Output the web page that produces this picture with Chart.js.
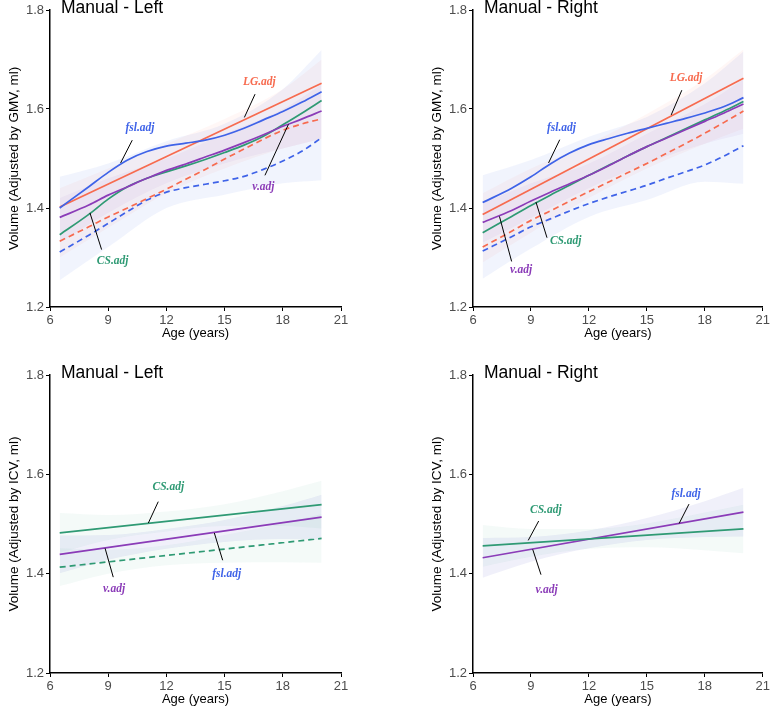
<!DOCTYPE html>
<html>
<head>
<meta charset="utf-8">
<script src="https://cdn.jsdelivr.net/npm/chart.js@4.4.1/dist/chart.umd.min.js"></script>
<style>
  body { margin: 0; background: #fff; }
  #wrap { position: relative; width: 772px; height: 717px; }
  canvas { position: absolute; }
</style>
</head>
<body>
<div id="wrap">
  <canvas id="c1" width="386" height="355" style="left:0;top:0"></canvas>
  <canvas id="c2" width="386" height="355" style="left:386px;top:0"></canvas>
  <canvas id="c3" width="386" height="362" style="left:0;top:355px"></canvas>
  <canvas id="c4" width="386" height="362" style="left:386px;top:355px"></canvas>
</div>
<script>
// ages used by the fitted curves
const AGES = [6.5, 8, 9, 10, 11, 12, 13, 14, 15, 16, 17, 18, 19, 20];
const ENDS = [6.5, 20];
const BAND_AGES = [6.5, 9, 12, 15, 18, 20];
const X_TICKS = [6, 9, 12, 15, 18, 21];
const Y_TICKS = [1.2, 1.4, 1.6, 1.8];

// GMV adjusted, left
const gmvLeftFsl      = [1.400, 1.443, 1.472, 1.497, 1.514, 1.525, 1.531, 1.537, 1.547, 1.561, 1.578, 1.595, 1.614, 1.635];
const gmvLeftFslDash  = [1.311, 1.345, 1.369, 1.393, 1.416, 1.432, 1.441, 1.448, 1.455, 1.464, 1.478, 1.495, 1.515, 1.542];
const gmvLeftV        = [1.381, 1.406, 1.426, 1.443, 1.460, 1.476, 1.489, 1.503, 1.517, 1.532, 1.548, 1.565, 1.580, 1.596];
const gmvLeftCS       = [1.346, 1.387, 1.418, 1.443, 1.460, 1.473, 1.485, 1.498, 1.512, 1.527, 1.545, 1.568, 1.592, 1.617];
const gmvLeftLG       = [1.402, 1.652];
const gmvLeftLGDash   = [1.333, 1.362, 1.382, 1.400, 1.419, 1.438, 1.458, 1.478, 1.499, 1.519, 1.539, 1.557, 1.570, 1.580];
const gmvLeftBlueHi   = [1.463, 1.490, 1.535, 1.570, 1.640, 1.719];
const gmvLeftBlueLo   = [1.254, 1.321, 1.400, 1.427, 1.450, 1.456];
const gmvLeftOrangeHi = [1.440, 1.480, 1.530, 1.580, 1.640, 1.700];
const gmvLeftOrangeLo = [1.300, 1.360, 1.430, 1.480, 1.520, 1.540];
const gmvLeftPurpleHi = [1.420, 1.460, 1.500, 1.550, 1.600, 1.650];
const gmvLeftPurpleLo = [1.330, 1.390, 1.450, 1.490, 1.520, 1.540];

// GMV adjusted, right
const gmvRightFsl      = [1.411, 1.440, 1.463, 1.489, 1.511, 1.528, 1.540, 1.551, 1.561, 1.571, 1.581, 1.592, 1.605, 1.623];
const gmvRightFslDash  = [1.313, 1.342, 1.362, 1.378, 1.394, 1.409, 1.422, 1.434, 1.446, 1.460, 1.473, 1.487, 1.505, 1.526];
const gmvRightV        = [1.371, 1.395, 1.414, 1.432, 1.449, 1.466, 1.485, 1.505, 1.524, 1.541, 1.558, 1.575, 1.592, 1.610];
const gmvRightCS       = [1.350, 1.383, 1.405, 1.426, 1.446, 1.466, 1.486, 1.505, 1.524, 1.542, 1.560, 1.578, 1.596, 1.615];
const gmvRightLG       = [1.387, 1.662];
const gmvRightLGDash   = [1.321, 1.353, 1.375, 1.394, 1.414, 1.433, 1.452, 1.471, 1.490, 1.510, 1.530, 1.551, 1.573, 1.596];
const gmvRightBlueHi   = [1.466, 1.497, 1.544, 1.584, 1.652, 1.716];
const gmvRightBlueLo   = [1.257, 1.318, 1.382, 1.416, 1.453, 1.449];
const gmvRightOrangeHi = [1.430, 1.480, 1.530, 1.590, 1.660, 1.720];
const gmvRightOrangeLo = [1.290, 1.350, 1.420, 1.480, 1.530, 1.560];
const gmvRightPurpleHi = [1.410, 1.450, 1.490, 1.550, 1.610, 1.660];
const gmvRightPurpleLo = [1.330, 1.380, 1.440, 1.490, 1.530, 1.550];

// ICV adjusted, left
const icvLeftCS       = [1.482, 1.539];
const icvLeftCSDash   = [1.413, 1.471];
const icvLeftV        = [1.439, 1.514];
const icvLeftCSHi     = [1.522, 1.518, 1.525, 1.540, 1.566, 1.587];
const icvLeftCSLo     = [1.442, 1.468, 1.485, 1.496, 1.496, 1.491];
const icvLeftDashHi   = [1.451, 1.448, 1.457, 1.478, 1.501, 1.520];
const icvLeftDashLo   = [1.375, 1.400, 1.417, 1.422, 1.423, 1.422];
const icvLeftVHi      = [1.477, 1.478, 1.490, 1.508, 1.536, 1.559];
const icvLeftVLo      = [1.401, 1.428, 1.450, 1.464, 1.470, 1.469];

// ICV adjusted, right
const icvRightCS      = [1.456, 1.490];
const icvRightV       = [1.432, 1.524];
const icvRightCSHi    = [1.498, 1.490, 1.490, 1.501, 1.523, 1.539];
const icvRightCSLo    = [1.414, 1.434, 1.450, 1.453, 1.447, 1.441];
const icvRightVHi     = [1.472, 1.474, 1.487, 1.512, 1.546, 1.573];
const icvRightVLo     = [1.392, 1.424, 1.451, 1.468, 1.474, 1.475];

const C = { fsl: '#3f63e8', lg: '#f76b4f', cs: '#2f9a74', v: '#8b3cb8' };
const SANS = '"Liberation Sans", Arial, Helvetica, sans-serif';

function pts(xs, ys) {
    return xs.map((x, i) => ({ x: x, y: ys[i] }));
}

function line(xs, ys, color, dashed) {
    return {
        data: pts(xs, ys),
        borderColor: color,
        borderWidth: 1.7,
        borderDash: dashed ? [6, 4] : [],
        pointRadius: 0,
        fill: false,
        cubicInterpolationMode: 'monotone',
        order: 0
    };
}

function rgba(hex, a) {
    const n = parseInt(hex.slice(1), 16);
    return `rgba(${n >> 16},${(n >> 8) & 255},${n & 255},${a})`;
}

// two datasets, upper one fills down to the lower one
function band(hi, lo, color, alpha) {
    return [
        { data: pts(BAND_AGES, hi), borderWidth: 0, pointRadius: 0, fill: '+1',
          backgroundColor: rgba(color, alpha), cubicInterpolationMode: 'monotone', order: 5 },
        { data: pts(BAND_AGES, lo), borderWidth: 0, pointRadius: 0, fill: false,
          cubicInterpolationMode: 'monotone', order: 5 }
    ];
}

const decor = {
    id: 'decor',
    afterDraw(chart, args, opts) {
        const { ctx, chartArea } = chart;
        const xs = chart.scales.x, ys = chart.scales.y;
        ctx.save();
        opts.notes.forEach(n => {
            ctx.strokeStyle = '#000';
            ctx.lineWidth = 1;
            ctx.beginPath();
            ctx.moveTo(xs.getPixelForValue(n.from[0]), ys.getPixelForValue(n.from[1]));
            ctx.lineTo(xs.getPixelForValue(n.to[0]), ys.getPixelForValue(n.to[1]));
            ctx.stroke();
            ctx.fillStyle = n.color;
            ctx.font = 'italic bold 11.5px "Liberation Serif", "Times New Roman", serif';
            ctx.textAlign = 'center';
            ctx.textBaseline = 'middle';
            ctx.fillText(n.text, xs.getPixelForValue(n.at[0]), ys.getPixelForValue(n.at[1]));
        });
        ctx.fillStyle = '#000';
        ctx.font = '17.5px ' + SANS;
        ctx.textAlign = 'left';
        ctx.textBaseline = 'alphabetic';
        ctx.fillText(opts.title, chartArea.left + 11, opts.titleY);
        ctx.restore();
    }
};

const panels = [
    {
        id: 'c1', yTitle: 'Volume (Adjusted by GMV, ml)', title: 'Manual - Left', titleY: 13,
        pad: { left: 0, right: 45, top: 10, bottom: 10 },
        datasets: [
            line(AGES, gmvLeftFsl, C.fsl), line(ENDS, gmvLeftLG, C.lg),
            line(AGES, gmvLeftV, C.v), line(AGES, gmvLeftCS, C.cs),
            line(AGES, gmvLeftLGDash, C.lg, true), line(AGES, gmvLeftFslDash, C.fsl, true),
            ...band(gmvLeftBlueHi, gmvLeftBlueLo, C.fsl, 0.07),
            ...band(gmvLeftOrangeHi, gmvLeftOrangeLo, C.lg, 0.05),
            ...band(gmvLeftPurpleHi, gmvLeftPurpleLo, C.v, 0.05)
        ],
        notes: [
            { text: 'LG.adj', color: C.lg, at: [16.79, 1.655], from: [16.57, 1.630], to: [16.02, 1.583] },
            { text: 'fsl.adj', color: C.fsl, at: [10.64, 1.562], from: [10.24, 1.537], to: [9.64, 1.491] },
            { text: 'v.adj', color: C.v, at: [17.0, 1.443], from: [17.08, 1.466], to: [18.29, 1.569] },
            { text: 'CS.adj', color: C.cs, at: [9.23, 1.292], from: [8.66, 1.316], to: [8.06, 1.390] }
        ]
    },
    {
        id: 'c2', yTitle: 'Volume (Adjusted by GMV, ml)', title: 'Manual - Right', titleY: 13,
        pad: { left: 37, right: 8, top: 10, bottom: 10 },
        datasets: [
            line(AGES, gmvRightFsl, C.fsl), line(ENDS, gmvRightLG, C.lg),
            line(AGES, gmvRightV, C.v), line(AGES, gmvRightCS, C.cs),
            line(AGES, gmvRightLGDash, C.lg, true), line(AGES, gmvRightFslDash, C.fsl, true),
            ...band(gmvRightBlueHi, gmvRightBlueLo, C.fsl, 0.07),
            ...band(gmvRightOrangeHi, gmvRightOrangeLo, C.lg, 0.05),
            ...band(gmvRightPurpleHi, gmvRightPurpleLo, C.v, 0.05)
        ],
        notes: [
            { text: 'LG.adj', color: C.lg, at: [17.03, 1.663], from: [16.81, 1.638], to: [16.26, 1.588] },
            { text: 'fsl.adj', color: C.fsl, at: [10.58, 1.562], from: [10.49, 1.538], to: [9.91, 1.491] },
            { text: 'CS.adj', color: C.cs, at: [10.80, 1.333], from: [9.83, 1.340], to: [9.26, 1.412] },
            { text: 'v.adj', color: C.v, at: [8.49, 1.274], from: [8.0, 1.292], to: [7.37, 1.383] }
        ]
    },
    {
        id: 'c3', yTitle: 'Volume (Adjusted by ICV, ml)', title: 'Manual - Left', titleY: 23,
        pad: { left: 0, right: 45, top: 20, bottom: 6 },
        datasets: [
            line(ENDS, icvLeftCS, C.cs), line(ENDS, icvLeftV, C.v),
            line(ENDS, icvLeftCSDash, C.cs, true),
            ...band(icvLeftCSHi, icvLeftCSLo, C.cs, 0.05),
            ...band(icvLeftDashHi, icvLeftDashLo, C.cs, 0.05),
            ...band(icvLeftVHi, icvLeftVLo, '#3c46be', 0.08)
        ],
        notes: [
            { text: 'CS.adj', color: C.cs, at: [12.10, 1.574], from: [11.58, 1.545], to: [11.07, 1.502] },
            { text: 'fsl.adj', color: C.fsl, at: [15.11, 1.399], from: [14.9, 1.427], to: [14.47, 1.482] },
            { text: 'v.adj', color: C.v, at: [9.30, 1.370], from: [9.26, 1.393], to: [8.84, 1.451] }
        ]
    },
    {
        id: 'c4', yTitle: 'Volume (Adjusted by ICV, ml)', title: 'Manual - Right', titleY: 23,
        pad: { left: 37, right: 8, top: 20, bottom: 6 },
        datasets: [
            line(ENDS, icvRightCS, C.cs), line(ENDS, icvRightV, C.v),
            ...band(icvRightCSHi, icvRightCSLo, C.cs, 0.05),
            ...band(icvRightVHi, icvRightVLo, '#3c46be', 0.08)
        ],
        notes: [
            { text: 'CS.adj', color: C.cs, at: [9.77, 1.529], from: [9.40, 1.506], to: [8.86, 1.467] },
            { text: 'fsl.adj', color: C.fsl, at: [17.03, 1.561], from: [17.18, 1.540], to: [16.67, 1.501] },
            { text: 'v.adj', color: C.v, at: [9.81, 1.367], from: [9.52, 1.398], to: [9.09, 1.449] }
        ]
    }
];

panels.forEach(p => {
    const ctx = document.getElementById(p.id).getContext('2d');
    new Chart(ctx, {
        type: 'line',
        data: { datasets: p.datasets },
        plugins: [decor],
        options: {
            responsive: false,
            animation: false,
            layout: { padding: p.pad },
            plugins: {
                legend: { display: false },
                tooltip: { enabled: false },
                decor: { notes: p.notes, title: p.title, titleY: p.titleY }
            },
            scales: {
                x: {
                    type: 'linear', min: 6, max: 21,
                    afterFit: s => { s.height = 38; },
                    afterBuildTicks: s => { s.ticks = X_TICKS.map(v => ({ value: v })); },
                    ticks: { color: '#4d4d4d', font: { size: 13, family: SANS }, padding: 2,
                             callback: v => String(v) },
                    grid: { drawOnChartArea: false, drawTicks: true, tickLength: 4, color: '#000', lineWidth: 1 },
                    border: { display: true, color: '#000', width: 1.5 },
                    title: { display: true, text: 'Age (years)', color: '#000',
                             font: { size: 13, family: SANS }, padding: { top: 0, bottom: 4 } }
                },
                y: {
                    min: 1.2, max: 1.8,
                    afterFit: s => { s.width = 50; },
                    afterBuildTicks: s => { s.ticks = Y_TICKS.map(v => ({ value: v })); },
                    ticks: { color: '#4d4d4d', font: { size: 13, family: SANS }, padding: 2,
                             callback: v => v.toFixed(1) },
                    grid: { drawOnChartArea: false, drawTicks: true, tickLength: 4, color: '#000', lineWidth: 1 },
                    border: { display: true, color: '#000', width: 1.5 },
                    title: { display: true, text: p.yTitle, color: '#000',
                             font: { size: 13.5, family: SANS }, padding: { top: 6, bottom: 0 } }
                }
            }
        }
    });
});
</script>
</body>
</html>
